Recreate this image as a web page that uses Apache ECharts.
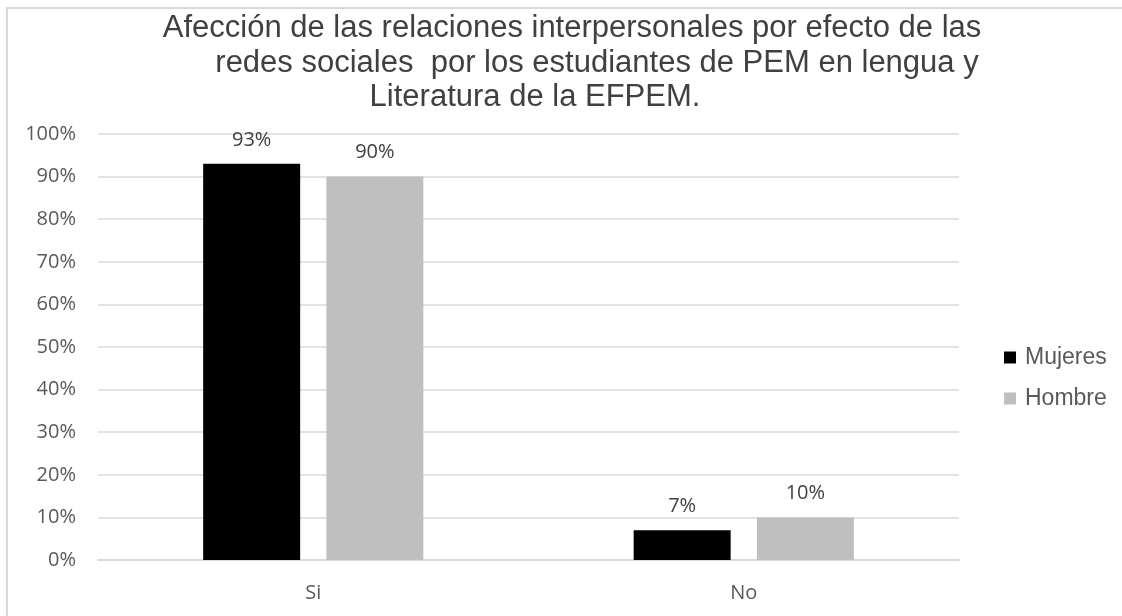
<!DOCTYPE html>
<html>
<head>
<meta charset="utf-8">
<script src="https://cdn.jsdelivr.net/npm/echarts@6/dist/echarts.min.js"></script>
<style>
  html, body { margin: 0; padding: 0; background: #ffffff; }
  #chart { width: 1122px; height: 616px; }
</style>
</head>
<body>
<div id="chart"></div>
<script>
// datos
var categorias = ['Si', 'No'];
var mujeres = [93, 7];
var hombre = [90, 10];
var tituloLineas = [
  'Afección de las relaciones interpersonales por efecto de las',
  'redes sociales  por los estudiantes de PEM en lengua y',
  'Literatura de la EFPEM.'
];

var myChart = echarts.init(document.getElementById('chart'));

var tituloPos = [[572, 13], [597, 48], [535, 82]];
var titulos = tituloLineas.map(function (t, i) {
  return {
    text: t,
    left: tituloPos[i][0],
    top: tituloPos[i][1],
    textAlign: 'center',
    padding: 0,
    textStyle: {
      fontFamily: 'Liberation Sans',
      fontSize: 31,
      fontWeight: 'normal',
      color: '#404040'
    }
  };
});

var etiqueta = {
  show: true,
  position: 'top',
  distance: 14,
  formatter: '{c}%',
  fontFamily: 'Open Sans',
  fontSize: 20,
  color: '#404040'
};

option = {
  backgroundColor: '#ffffff',
  animation: false,
  title: titulos,
  graphic: [{
    type: 'rect',
    shape: { x: 7, y: 8, width: 1130, height: 630 },
    style: { fill: 'none', stroke: '#d9d9d9', lineWidth: 2 },
    silent: true
  }],
  legend: {
    orient: 'vertical',
    left: 1004,
    top: 346,
    padding: 0,
    itemWidth: 12,
    itemHeight: 12,
    itemGap: 18,
    icon: 'rect',
    textStyle: {
      fontFamily: 'Liberation Sans',
      fontSize: 23,
      color: '#595959',
      padding: [0, 0, 0, 4]
    },
    data: ['Mujeres', 'Hombre']
  },
  grid: {
    left: 98,
    right: 163,
    top: 134,
    bottom: 56,
    containLabel: false
  },
  xAxis: {
    type: 'category',
    data: categorias,
    axisTick: { show: false },
    axisLine: { lineStyle: { color: '#d9d9d9', width: 2 } },
    axisLabel: {
      margin: 23,
      fontFamily: 'Open Sans',
      fontSize: 20,
      color: '#595959'
    }
  },
  yAxis: {
    type: 'value',
    min: 0,
    max: 100,
    interval: 10,
    axisLine: { show: false },
    axisTick: { show: false },
    splitLine: { lineStyle: { color: '#d9d9d9', width: 1.5 } },
    axisLabel: {
      formatter: '{value}%',
      margin: 22,
      fontFamily: 'Open Sans',
      fontSize: 20,
      color: '#595959'
    }
  },
  series: [
    {
      name: 'Mujeres',
      type: 'bar',
      data: mujeres,
      barWidth: 97,
      barGap: '27%',
      itemStyle: { color: '#000000' },
      label: etiqueta
    },
    {
      name: 'Hombre',
      type: 'bar',
      data: hombre,
      barWidth: 97,
      itemStyle: { color: '#bfbfbf' },
      label: etiqueta
    }
  ]
};

myChart.setOption(option);
window.addEventListener('resize', function () {
  myChart.resize();
});
</script>
</body>
</html>
